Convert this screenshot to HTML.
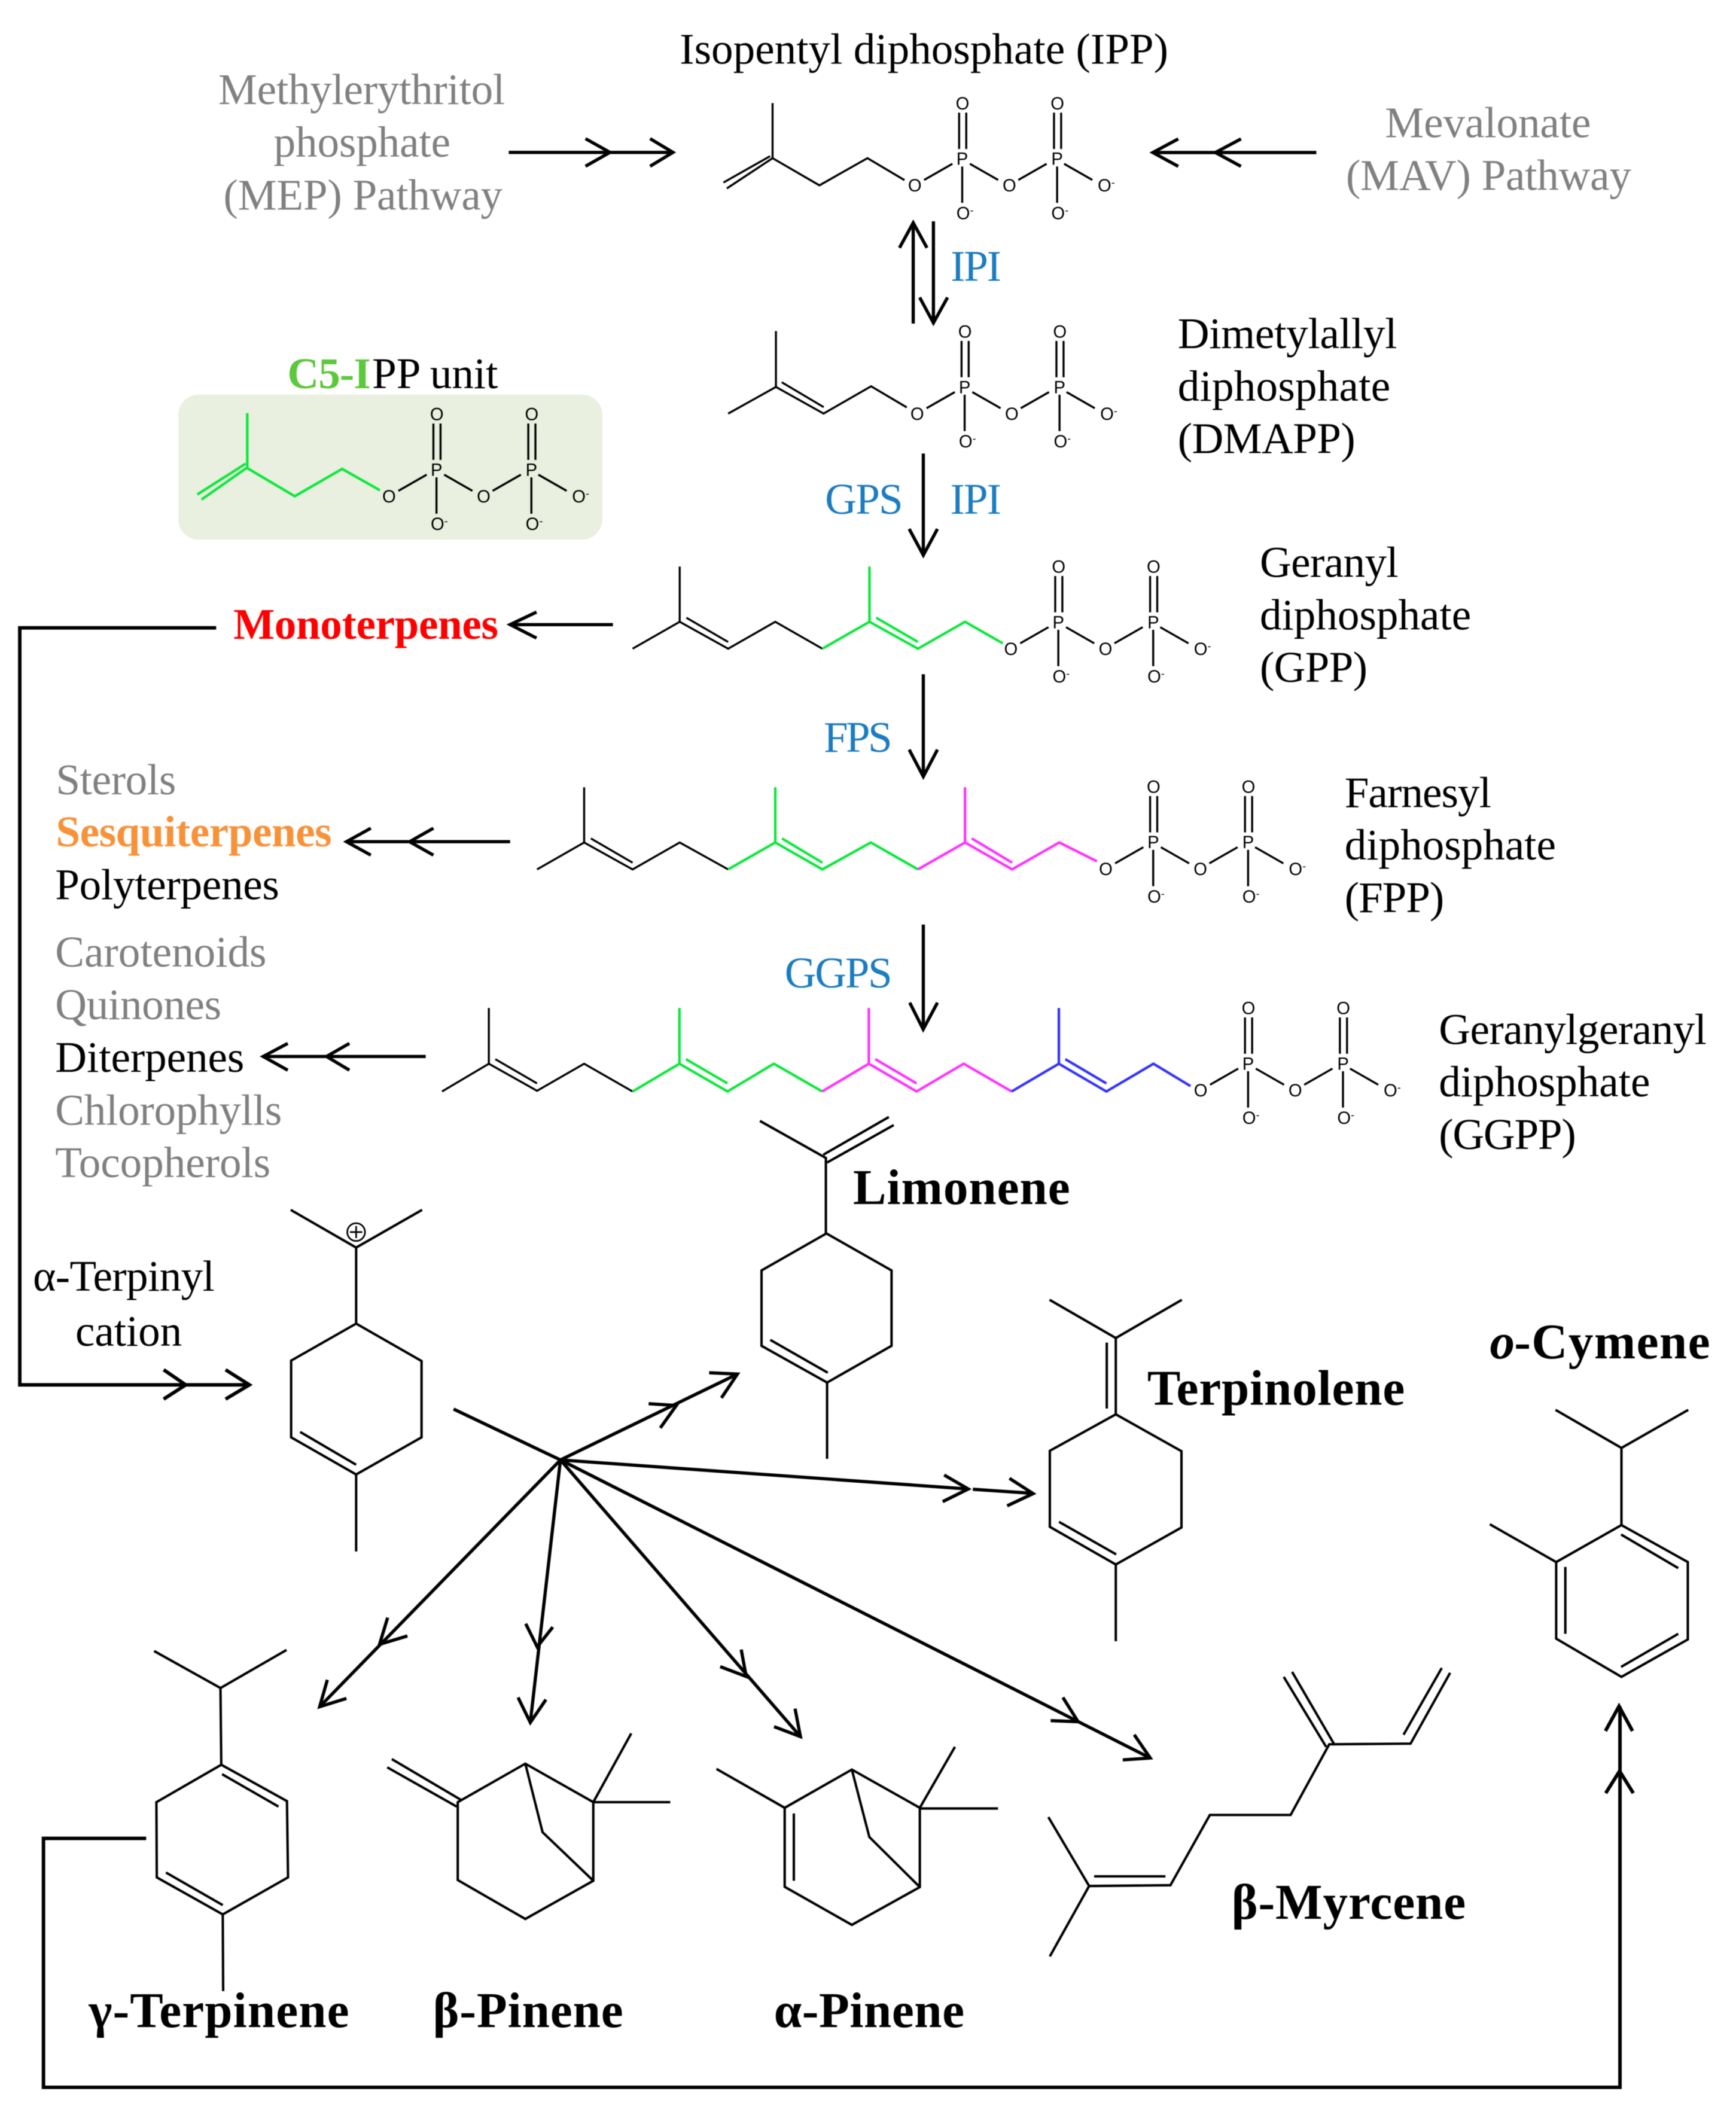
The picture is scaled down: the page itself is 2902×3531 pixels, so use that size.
<!DOCTYPE html>
<html><head><meta charset="utf-8"><title>Terpene biosynthesis</title>
<style>
html,body{margin:0;padding:0;background:#fff;width:2902px;height:3531px;overflow:hidden}
svg{display:block;filter:blur(.6px)}
text{font-family:"Liberation Serif",serif;font-size:32.5px;fill:#000;transform:translate(0,.7px)}
.g{fill:#808080}
.b{fill:#1b7cc0}
.h{font-weight:bold;font-size:37px}
.o{font-family:"Liberation Sans",sans-serif;font-size:13px;fill:#000;transform:none}
.m{font-size:8px}
.l{fill:none;stroke:#000;stroke-width:1.5}
.t{fill:none;stroke:#000;stroke-width:1.8}
.a{fill:none;stroke:#000;stroke-width:2.4}
.a2{fill:none;stroke:#000;stroke-width:2.6}
</style></head><body>
<svg xmlns="http://www.w3.org/2000/svg" width="2902" height="3531" viewBox="0 0 1289.8 1569.3">
<defs>
<g id="tb" class="l">
<path d="M7,-4L28,-16M41,-16L62,-4M77,-4L98,-16M111,-16L132,-4"/>
<path d="M33,-54V-27M38.3,-54V-27M35.3,-14V13"/>
<path d="M103.5,-54V-27M108.8,-54V-27M105.8,-14V13"/>
</g>
</defs>
<rect width="1289.8" height="1569.3" fill="#fff"/>

<!-- headings top -->
<text x="505" y="46.5" textLength="363">Isopentyl diphosphate (IPP)</text>
<text class="g" x="162.2" y="76.7" textLength="213">Methylerythritol</text>
<text class="g" x="203.4" y="115.7" textLength="131.3">phosphate</text>
<text class="g" x="166" y="155" textLength="207.4">(MEP) Pathway</text>
<text class="g" x="1029" y="101.3" textLength="153">Mevalonate</text>
<text class="g" x="1000" y="140.3" textLength="212">(MAV) Pathway</text>

<!-- IPP -->
<polyline class="l" points="574,76.6 574,117.5 608.8,137.7 644.5,117.5 672,133.8"/>
<path class="l" d="M574,117.5L540,140M572.2,116L537.5,135.6"/>
<g transform="translate(679.6,137.7)"><use href="#tb"/>
<text class="o" x="-5" y="4.6">O</text><text class="o" x="65.3" y="4.6">O</text><text class="o" x="136" y="4.6">O<tspan class="m" dy="-4">-</tspan></text>
<text class="o" x="30.5" y="-56.4">O</text><text class="o" x="101" y="-56.4">O</text>
<text class="o" x="31" y="25.1">O<tspan class="m" dy="-4">-</tspan></text><text class="o" x="101.5" y="25.1">O<tspan class="m" dy="-4">-</tspan></text>
<text class="o" x="31" y="-15.2">P</text><text class="o" x="101.5" y="-15.2">P</text></g>

<!-- MEP arrows -->
<path class="a" d="M378,113.2H500"/>
<polyline class="a" points="435,103 453.2,113.2 435,123.5"/>
<polyline class="a" points="483,103 500,113.2 483,123.5"/>
<path class="a" d="M978,113.3H856.5"/>
<polyline class="a" points="875.4,103.2 856.5,113.3 875.4,123.6"/>
<polyline class="a" points="922,103.2 903,113.3 922,123.6"/>

<!-- IPI arrows -->
<path class="a" d="M678.5,240.4V166"/>
<polyline class="a" points="668.3,184.1 678.5,165.5 688.7,184.1"/>
<path class="a" d="M693.5,164.4V239"/>
<polyline class="a" points="683.3,221 693.5,239.9 704,221"/>
<text class="b" x="706.3" y="207.9" textLength="37.7">IPI</text>

<!-- DMAPP -->
<polyline class="l" points="541,307.3 576.5,287.5 611.9,307.3 647.2,287 673.7,302.7"/>
<path class="l" d="M576.5,287.5V246M580.8,284L612,302.5"/>
<g transform="translate(681.4,307.3)"><use href="#tb"/>
<text class="o" x="-5" y="4.6">O</text><text class="o" x="65.3" y="4.6">O</text><text class="o" x="136" y="4.6">O<tspan class="m" dy="-4">-</tspan></text>
<text class="o" x="30.5" y="-56.4">O</text><text class="o" x="101" y="-56.4">O</text>
<text class="o" x="31" y="25.1">O<tspan class="m" dy="-4">-</tspan></text><text class="o" x="101.5" y="25.1">O<tspan class="m" dy="-4">-</tspan></text>
<text class="o" x="31" y="-15.2">P</text><text class="o" x="101.5" y="-15.2">P</text></g>
<text x="875" y="258" textLength="163">Dimetylallyl</text>
<text x="875" y="297" textLength="158">diphosphate</text>
<text x="875" y="336" textLength="132">(DMAPP)</text>

<!-- C5 unit -->
<text x="213.5" y="287.8" textLength="62" style="font-weight:bold;fill:#5cc83c">C5-I</text>
<text x="276.5" y="287.8" textLength="93.5">PP unit</text>
<rect x="132.5" y="293.2" width="315" height="107.8" rx="15" ry="15" fill="#e9f0df"/>
<g fill="none" stroke="#0de83c" stroke-width="1.9">
<polyline points="183.7,307 183.7,347.8 219,368.7 254.2,348.4 282.3,364.3"/>
<path d="M183,347.8L149.7,371.2M182.5,344.5L146.6,367.4"/>
</g>
<g transform="translate(289,368.7)"><use href="#tb"/>
<text class="o" x="-5" y="4.6">O</text><text class="o" x="65.3" y="4.6">O</text><text class="o" x="136" y="4.6">O<tspan class="m" dy="-4">-</tspan></text>
<text class="o" x="30.5" y="-56.4">O</text><text class="o" x="101" y="-56.4">O</text>
<text class="o" x="31" y="25.1">O<tspan class="m" dy="-4">-</tspan></text><text class="o" x="101.5" y="25.1">O<tspan class="m" dy="-4">-</tspan></text>
<text class="o" x="31" y="-15.2">P</text><text class="o" x="101.5" y="-15.2">P</text></g>

<!-- GPS -->
<text class="b" x="613" y="381" textLength="58">GPS</text>
<text class="b" x="706" y="381" textLength="38">IPI</text>
<path class="a" d="M686,337V412"/>
<polyline class="a" points="675.5,393 686,412.5 696.5,393"/>

<!-- GPP -->
<polyline class="l" points="470,482 505,462 541,482 576,462 611,482"/>
<path class="l" d="M505,462V421M510,459L541,477"/>
<g fill="none" stroke="#0de83c" stroke-width="1.9">
<polyline points="611,482 646,462 682,482 717,462 745,478"/>
<path d="M646,462V421M651,459L682,477"/>
</g>
<g transform="translate(751,482)"><use href="#tb"/>
<text class="o" x="-5" y="4.6">O</text><text class="o" x="65.3" y="4.6">O</text><text class="o" x="136" y="4.6">O<tspan class="m" dy="-4">-</tspan></text>
<text class="o" x="30.5" y="-56.4">O</text><text class="o" x="101" y="-56.4">O</text>
<text class="o" x="31" y="25.1">O<tspan class="m" dy="-4">-</tspan></text><text class="o" x="101.5" y="25.1">O<tspan class="m" dy="-4">-</tspan></text>
<text class="o" x="31" y="-15.2">P</text><text class="o" x="101.5" y="-15.2">P</text></g>
<text x="936" y="428" textLength="103">Geranyl</text>
<text x="936" y="467" textLength="157">diphosphate</text>
<text x="936" y="506" textLength="80">(GPP)</text>

<!-- Monoterpenes -->
<text x="173.4" y="474" textLength="196.8" style="font-weight:bold;fill:#ff0000">Monoterpenes</text>
<path class="a" d="M455.4,464.1H380"/>
<polyline class="a" points="398.6,454.8 379,464.1 398.6,474.1"/>

<!-- FPS -->
<text class="b" x="612" y="558" textLength="51">FPS</text>
<path class="a" d="M686,501V577"/>
<polyline class="a" points="675.5,557 686,577 696.5,557"/>

<!-- FPP -->
<polyline class="l" points="399,646 434,626 470,646 505,626 541,646"/>
<path class="l" d="M434,626V585M439,623L470,641"/>
<g fill="none" stroke="#0de83c" stroke-width="1.9">
<polyline points="541,646 576,626 611,646 647,626 682,646"/>
<path d="M576,626V585M581,623L611,641"/>
</g>
<g fill="none" stroke="#ff33ff" stroke-width="1.9">
<polyline points="682,646 717,626 752,646 787,626 815,640"/>
<path d="M717,626V585M722,623L752,641"/>
</g>
<g transform="translate(821.5,645.5)"><use href="#tb"/>
<text class="o" x="-5" y="4.6">O</text><text class="o" x="65.3" y="4.6">O</text><text class="o" x="136" y="4.6">O<tspan class="m" dy="-4">-</tspan></text>
<text class="o" x="30.5" y="-56.4">O</text><text class="o" x="101" y="-56.4">O</text>
<text class="o" x="31" y="25.1">O<tspan class="m" dy="-4">-</tspan></text><text class="o" x="101.5" y="25.1">O<tspan class="m" dy="-4">-</tspan></text>
<text class="o" x="31" y="-15.2">P</text><text class="o" x="101.5" y="-15.2">P</text></g>
<text x="999" y="599" textLength="109">Farnesyl</text>
<text x="999" y="638" textLength="157">diphosphate</text>
<text x="999" y="677" textLength="74">(FPP)</text>

<!-- left lists -->
<text class="g" x="41.5" y="589.6" textLength="89.3">Sterols</text>
<text x="41.5" y="628.1" textLength="205" style="font-weight:bold;fill:#f79239">Sesquiterpenes</text>
<text x="41" y="667.6" textLength="166.5">Polyterpenes</text>
<text class="g" x="41" y="717.5" textLength="157">Carotenoids</text>
<text class="g" x="41" y="756.7" textLength="123.5">Quinones</text>
<text x="41" y="795.7" textLength="140.5">Diterpenes</text>
<text class="g" x="41" y="835" textLength="168.5">Chlorophylls</text>
<text class="g" x="41" y="874" textLength="160">Tocopherols</text>

<path class="a" d="M379,625.4H258"/>
<polyline class="a" points="275.5,615.4 257.4,625.4 275.5,635.4"/>
<polyline class="a" points="322,615.4 304.3,625.4 322,635.4"/>
<path class="a" d="M316.3,785H196"/>
<polyline class="a" points="213.8,775.3 195.5,785 213.8,795.2"/>
<polyline class="a" points="259.6,775.3 242.6,785 259.6,795.2"/>

<!-- GGPS -->
<text class="b" x="583" y="733" textLength="80">GGPS</text>
<path class="a" d="M686,687V764"/>
<polyline class="a" points="675.9,745 685.9,764.8 696.5,745"/>

<!-- GGPP -->
<polyline class="l" points="328.4,811 363.2,790.4 399,810.5 434,790.4 470,811"/>
<path class="l" d="M363.2,790.4V749M368,787L399,805"/>
<g fill="none" stroke="#0de83c" stroke-width="1.9">
<polyline points="470,811 504.8,790.4 540.5,811 575,790.4 610.8,811"/>
<path d="M504.8,790.4V749M509.6,787L540.5,805"/>
</g>
<g fill="none" stroke="#ff33ff" stroke-width="1.9">
<polyline points="610.8,811 645.5,790.4 681,811 716,790.4 751.6,811"/>
<path d="M645.5,790.4V749M650.3,787L681,805"/>
</g>
<g fill="none" stroke="#3333ff" stroke-width="1.9">
<polyline points="751.6,811 786.7,790.4 822,811 857,790.4 884.5,807"/>
<path d="M786.7,790.4V749M791.5,787L822,805"/>
</g>
<g transform="translate(892,810)"><use href="#tb"/>
<text class="o" x="-5" y="4.6">O</text><text class="o" x="65.3" y="4.6">O</text><text class="o" x="136" y="4.6">O<tspan class="m" dy="-4">-</tspan></text>
<text class="o" x="30.5" y="-56.4">O</text><text class="o" x="101" y="-56.4">O</text>
<text class="o" x="31" y="25.1">O<tspan class="m" dy="-4">-</tspan></text><text class="o" x="101.5" y="25.1">O<tspan class="m" dy="-4">-</tspan></text>
<text class="o" x="31" y="-15.2">P</text><text class="o" x="101.5" y="-15.2">P</text></g>
<text x="1069" y="775" textLength="199">Geranylgeranyl</text>
<text x="1069" y="814" textLength="157">diphosphate</text>
<text x="1069" y="853" textLength="102">(GGPP)</text>

<!-- long connector -->
<polyline class="a2" points="160.6,466.5 14.7,466.5 14.7,1029 185,1029"/>
<polyline class="a2" points="121.6,1017.8 138,1029 121.6,1039.6"/>
<polyline class="a2" points="167.6,1017.8 185.3,1029 167.6,1039.6"/>

<!-- alpha-terpinyl -->
<text x="24.5" y="958.5" textLength="135">α-Terpinyl</text>
<text x="56" y="999.3" textLength="79.2">cation</text>
<polyline class="t" points="216,899 264.6,927 313.6,899"/>
<path class="t" d="M264.6,927V983.5M223,1064L264.6,1088.4M264.6,1095.6V1152.8"/>
<polygon class="t" points="264.6,983.5 313.2,1011.3 313.2,1068 264.6,1095.6 216.3,1068 216.3,1011"/>
<circle cx="264.6" cy="915.5" r="6.6" fill="#fff" stroke="#000" stroke-width="1.2"/>
<path d="M260,915.5H269.2M264.6,911V920" stroke="#000" stroke-width="1.2" fill="none"/>

<!-- Limonene -->
<polyline class="t" points="564.6,832.9 613.6,860.4 613.6,916.5"/>
<path class="t" d="M660.4,830L611.7,858M664,836L614.5,863.8M572.3,995.6L615,1020M614.5,1027.3V1084"/>
<polygon class="t" points="614,916.5 662.4,944 662.4,1000 614.5,1027.3 565.8,1000 565.8,944"/>
<text class="h" x="633.8" y="894" textLength="161.2">Limonene</text>

<!-- Terpinolene -->
<polyline class="t" points="779.8,965.8 829,994.2 878.1,965.8"/>
<path class="t" d="M829,994.2V1050.9M822.3,997.6V1046.6M786.8,1130.8L829.3,1155M829,1162.5V1219.5"/>
<polygon class="t" points="829,1050.9 877.8,1078.3 877.8,1135 829,1162.5 780,1134.5 780,1078"/>
<text class="h" x="852.4" y="1043" textLength="191.3">Terpinolene</text>

<!-- o-Cymene -->
<text class="h" x="1106.9" y="1008.7" style="font-style:italic">o</text>
<text class="h" x="1125" y="1008.7" textLength="145.5">-Cymene</text>
<polyline class="t" points="1155.7,1047.6 1204.7,1075.9 1254.3,1047.6"/>
<path class="t" d="M1204.7,1075.9V1133.2M1106.9,1132.6L1156.2,1160.7M1204.4,1140.2L1246.9,1165.2M1163,1164.3V1214M1204.4,1238.6L1246.9,1214"/>
<polygon class="t" points="1204.7,1133.2 1254,1160.7 1254,1218.2 1204.7,1246 1156.2,1217.6 1156.2,1160.7"/>

<!-- fan arrows -->
<path class="a" d="M337,1047L416.4,1084.8"/>
<path class="a" d="M416.4,1084.8L547.9,1021"/>
<polyline class="a" points="481.9,1043 502.5,1044.3 490.6,1061"/>
<polyline class="a" points="526.9,1020 547.9,1021 536,1038.7"/>
<path class="a" d="M416.4,1084.8L719.4,1106.4M722.8,1106.6L767,1109.6"/>
<polyline class="a" points="701.5,1096 719.4,1106.4 700.4,1115.8"/>
<polyline class="a" points="750,1098.5 767.6,1109.8 748.3,1118.9"/>
<path class="a" d="M416.4,1084.8L237.5,1268.2"/>
<polyline class="a" points="288,1202 282,1221.8 302.7,1215.6"/>
<polyline class="a" points="243.2,1248.2 237.5,1268.2 257.4,1262"/>
<path class="a" d="M416.4,1084.8L394,1279.9"/>
<polyline class="a" points="390.6,1206.5 399.1,1223.7 410.7,1209"/>
<polyline class="a" points="384.9,1261.3 394,1279.9 405.6,1262.9"/>
<path class="a" d="M416.4,1084.8L594.7,1290.4"/>
<polyline class="a" points="550.7,1225.7 554.4,1245.7 535.1,1238.4"/>
<polyline class="a" points="590.7,1269.6 594.7,1290.4 575.1,1283"/>
<path class="a" d="M416.4,1084.8L854.6,1306.3"/>
<polyline class="a" points="789.7,1261.3 801,1279.3 780.6,1278.5"/>
<polyline class="a" points="842.7,1289 854.6,1306.3 834.2,1307.7"/>

<!-- gamma-terpinene -->
<polyline class="t" points="114.5,1226.8 163.8,1254.3 212.9,1226"/>
<path class="t" d="M163.8,1254.3L164.4,1311.3M165,1318.3L206.9,1342.4M123.3,1391.4L165.5,1415.6M165.5,1422.5L165.8,1479.5"/>
<polygon class="t" points="164.4,1311.3 213.2,1338.3 214,1395 165.5,1422.5 116.5,1395 116.2,1339.1"/>
<text class="h" x="66" y="1505.5" textLength="193.4">γ-Terpinene</text>

<!-- beta-pinene -->
<path class="t" d="M291.1,1307.1L343,1337.7M287.7,1313.2L339.3,1342.4"/>
<polygon class="t" points="340.1,1339.1 390.3,1310.5 440.8,1339.1 440.8,1397.5 390.3,1425.9 340.1,1397"/>
<polyline class="t" points="390.3,1310.5 403.1,1361.4 440.8,1397.5"/>
<path class="t" d="M440.8,1339.1L469,1288M440.8,1339.1H498"/>
<text class="h" x="321.6" y="1505.5" textLength="141.4">β-Pinene</text>

<!-- alpha-pinene -->
<polygon class="t" points="583,1343.3 632.9,1314.9 683.4,1343.3 683.4,1402.2 632.9,1430.3 583,1402"/>
<polyline class="t" points="632.9,1314.9 645.9,1365 683.4,1402.2"/>
<path class="t" d="M532.3,1314.4L583,1343.3M589.8,1347.5V1397.5M683.4,1343.3L709.5,1298M683.4,1343.8H741.5"/>
<text class="h" x="575" y="1505.5" textLength="141.5">α-Pinene</text>

<!-- myrcene -->
<polyline class="t" points="778.9,1350.2 809.2,1401.4 780,1453.7"/>
<polyline class="t" points="809.2,1401.4 869.6,1400.8 898.9,1348.6 958.9,1348.6 987.6,1296.1 1048,1295.6 1077.4,1243"/>
<path class="t" d="M812.9,1394.2H865.9M1042.8,1289L1071.2,1239.4M953.8,1246L985.3,1298M960,1242.3L991,1295.6"/>
<text class="h" x="915" y="1425" textLength="174">β-Myrcene</text>

<!-- bottom connector -->
<polyline class="a2" points="108.6,1366 32.3,1366 32.3,1551 1203.6,1551 1203.6,1268"/>
<polyline class="a2" points="1192.8,1286.2 1202.9,1267.8 1212.9,1286.2"/>
<polyline class="a2" points="1193,1332.4 1203.3,1316 1213.5,1332.4"/>
</svg>
</body></html>
